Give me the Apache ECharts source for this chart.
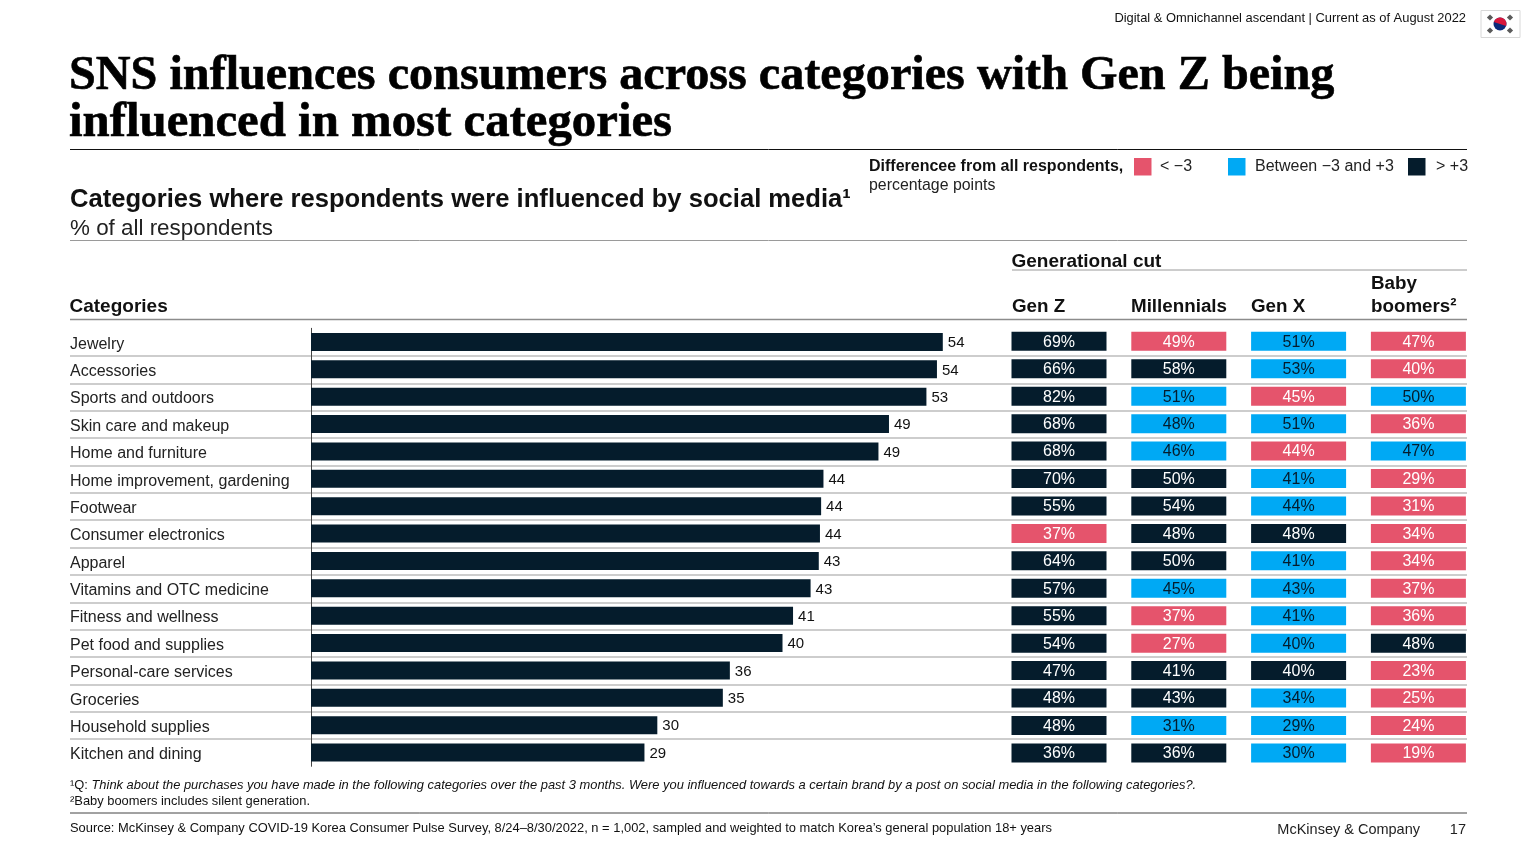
<!DOCTYPE html>
<html>
<head>
<meta charset="utf-8">
<title>SNS influence by category</title>
<style>
  html, body { margin: 0; padding: 0; background: #fff; }
  #main { width: 1536px; height: 864px; }
</style>
<script src="https://cdn.jsdelivr.net/npm/echarts@6/dist/echarts.min.js"></script>
</head>
<body>
<div id="main"></div>
<script>
const categories = ['Jewelry', 'Accessories', 'Sports and outdoors', 'Skin care and makeup', 'Home and furniture',
  'Home improvement, gardening', 'Footwear', 'Consumer electronics', 'Apparel', 'Vitamins and OTC medicine',
  'Fitness and wellness', 'Pet food and supplies', 'Personal-care services', 'Groceries', 'Household supplies', 'Kitchen and dining'];
// bar lengths, labels are these rounded
const allRespondents = [54.0, 53.5, 52.6, 49.4, 48.5, 43.8, 43.6, 43.5, 43.4, 42.7, 41.2, 40.3, 35.8, 35.2, 29.6, 28.5];
const generations = ['Gen Z', 'Millennials', 'Gen X', 'Baby boomers'];
const genZ = [69, 66, 82, 68, 68, 70, 55, 37, 64, 57, 55, 54, 47, 48, 48, 36];
const millennials = [49, 58, 51, 48, 46, 50, 54, 48, 50, 45, 37, 27, 41, 43, 31, 36];
const genX = [51, 53, 45, 51, 44, 41, 44, 48, 41, 43, 41, 40, 40, 34, 29, 30];
const boomers = [47, 40, 50, 36, 47, 29, 31, 34, 34, 37, 36, 48, 23, 25, 24, 19];

const NAVY = '#051C2C', PINK = '#E5546C', BLUE = '#00A9F4', RULE = '#BDBDBD';
const SANS = '"Liberation Sans", Arial, sans-serif';
const TITLE_FONT = '"Liberation Serif", serif';

// cell colour follows the gap to the all-respondents figure
function cellItems() {
  const items = [];
  [genZ, millennials, genX, boomers].forEach((col, c) => {
    col.forEach((v, r) => {
      const diff = v - Math.round(allRespondents[r]);
      const fill = diff > 3 ? NAVY : (diff < -3 ? PINK : BLUE);
      items.push({
        value: [c, r, v],
        itemStyle: { color: fill, opacity: 1 },
        label: { color: fill === BLUE ? NAVY : '#fff' }
      });
    });
  });
  return items;
}

function txt(x, y, text, size, extra) {
  return {
    type: 'text', x: x, y: y, silent: true,
    style: Object.assign({ text: text, fontFamily: SANS, fontSize: size, fill: '#111', textVerticalAlign: 'middle' }, extra || {})
  };
}
function rule(x1, x2, y, color, width) {
  return { type: 'line', silent: true, shape: { x1: x1, y1: y, x2: x2, y2: y }, style: { stroke: color, lineWidth: width } };
}
function box(x, y, w, h, color) {
  return { type: 'rect', silent: true, shape: { x: x, y: y, width: w, height: h }, style: { fill: color } };
}
// small grey bar group of the flag
function flagMark(cx, cy) {
  return { type: 'rect', silent: true, x: cx, y: cy, rotation: Math.PI / 4, shape: { x: -2.2, y: -2.2, width: 4.4, height: 4.4 }, style: { fill: '#5A5A5A' } };
}

const boldHead = { fontWeight: 'bold' };
const titleStyle = { fontFamily: TITLE_FONT, fontWeight: 'bold', fill: '#000', stroke: '#000', lineWidth: 0.6 };
const colX = [1012, 1131, 1251, 1371];

const graphics = [
  txt(1466, 18.5, 'Digital & Omnichannel ascendant | Current as of August 2022', 12.9, { textAlign: 'right' }),
  // flag
  { type: 'rect', silent: true, shape: { x: 1481, y: 10.5, width: 39, height: 27 }, style: { fill: '#fff', stroke: '#D8D8D8', lineWidth: 1 } },
  { type: 'circle', silent: true, shape: { cx: 1500, cy: 24, r: 6.5 }, style: { fill: '#0B2A7A' } },
  { type: 'sector', silent: true, shape: { cx: 1500, cy: 24, r: 6.5, r0: 0, startAngle: Math.PI * 1.1, endAngle: Math.PI * 2.1 }, style: { fill: '#D8173C' } },
  flagMark(1490, 17.5), flagMark(1510, 17.5), flagMark(1490, 30.5), flagMark(1510, 30.5),

  txt(69, 77, 'SNS influences consumers across categories with Gen Z being', 48.2, titleStyle),
  txt(69, 123, 'influenced in most categories', 48.8, titleStyle),
  rule(70, 1467, 149.5, '#111', 1),

  txt(70, 200, 'Categories where respondents were influenced by social media¹', 25.6, { fontWeight: 'bold', fill: '#111' }),
  txt(70, 228.5, '% of all respondents', 22.4, { fill: '#222' }),
  rule(70, 1467, 240.5, '#9A9A9A', 1),

  txt(869, 166.5, 'Differencee from all respondents,', 16, boldHead),
  txt(869, 185.5, 'percentage points', 15.9, { fill: '#222' }),
  box(1134, 158, 17.5, 17.5, PINK),
  txt(1160, 167, '< −3', 16, { fill: '#222' }),
  box(1228, 158, 17.5, 17.5, BLUE),
  txt(1255, 167, 'Between −3 and +3', 16, { fill: '#222' }),
  box(1408, 158, 17.5, 17.5, NAVY),
  txt(1436, 167, '> +3', 16, { fill: '#222' }),

  txt(1011.5, 262, 'Generational cut', 19, boldHead),
  rule(1012, 1467, 270, '#9A9A9A', 1),
  txt(69.5, 307, 'Categories', 19, boldHead),
  txt(colX[0], 307, generations[0], 18.8, boldHead),
  txt(colX[1], 307, generations[1], 18.8, boldHead),
  txt(colX[2], 307, generations[2], 18.8, boldHead),
  txt(colX[3], 284, 'Baby', 18.8, boldHead),
  txt(colX[3], 307, 'boomers²', 18.8, boldHead),
  rule(70, 1467, 319.5, '#8C8C8C', 1.5),

  {
    type: 'text', x: 70, y: 785.5, silent: true,
    style: {
      text: '¹Q: {i|Think about the purchases you have made in the following categories over the past 3 months. Were you influenced towards a certain brand by a post on social media in the following categories?.}',
      fontFamily: SANS, fontSize: 12.9, fill: '#111', textVerticalAlign: 'middle',
      rich: { i: { fontStyle: 'italic', fontFamily: SANS, fontSize: 12.9, fill: '#111' } }
    }
  },
  txt(70, 801.5, '²Baby boomers includes silent generation.', 12.9),
  rule(70, 1467, 813, '#444', 1),
  txt(70, 828.5, 'Source: McKinsey & Company COVID-19 Korea Consumer Pulse Survey, 8/24–8/30/2022, n = 1,002, sampled and weighted to match Korea’s general population 18+ years', 12.9),
  txt(1420, 830, 'McKinsey & Company', 14.5, { textAlign: 'right', fill: '#222' }),
  txt(1466, 830, '17', 14.5, { textAlign: 'right', fill: '#222' })
];

const option = {
  backgroundColor: '#fff',
  animation: false,
  grid: [
    // row rules run the full width behind the marks
    { left: 70, top: 328.6, width: 1397, height: 438 },
    { left: 311, top: 328.3, width: 702, height: 438 },
    { left: 999.1, top: 327.6, width: 479.2, height: 439 },
    // names sit a little below the row middle
    { left: 70, top: 330.6, width: 241, height: 438 }
  ],
  xAxis: [
    { gridIndex: 0, type: 'value', min: 0, max: 1, show: false },
    { gridIndex: 1, type: 'value', min: 0, max: 60, show: false },
    { gridIndex: 2, type: 'category', data: generations, show: false },
    { gridIndex: 3, type: 'value', min: 0, max: 1, show: false }
  ],
  yAxis: [
    {
      gridIndex: 0, type: 'category', inverse: true, data: categories,
      axisLine: { show: false }, axisTick: { show: false }, axisLabel: { show: false },
      splitLine: { show: true, showMinLine: false, showMaxLine: false, lineStyle: { color: RULE, width: 1.5 } }
    },
    {
      gridIndex: 1, type: 'category', inverse: true, data: categories,
      axisLine: { show: true, lineStyle: { color: '#444', width: 1 } }, axisTick: { show: false }, axisLabel: { show: false }
    },
    { gridIndex: 2, type: 'category', inverse: true, data: categories, show: false },
    {
      gridIndex: 3, type: 'category', inverse: true, data: categories,
      axisLine: { show: false }, axisTick: { show: false }, splitLine: { show: false },
      axisLabel: { inside: true, margin: 0, fontFamily: SANS, fontSize: 16, color: '#222' }
    }
  ],
  series: [
    {
      type: 'bar', xAxisIndex: 1, yAxisIndex: 1, data: allRespondents, barWidth: 18,
      itemStyle: { color: NAVY },
      label: {
        show: true, position: 'right', distance: 5, offset: [0, 1], fontFamily: SANS, fontSize: 15, color: '#111',
        formatter: p => Math.round(p.value)
      }
    },
    {
      type: 'scatter', xAxisIndex: 2, yAxisIndex: 2, data: cellItems(),
      symbol: 'rect', symbolSize: [95, 19],
      label: {
        show: true, position: 'inside', offset: [0, 1], fontFamily: SANS, fontSize: 16,
        formatter: p => p.value[2] + '%'
      }
    }
  ],
  graphic: { elements: graphics }
};

const myChart = echarts.init(document.getElementById('main'));
myChart.setOption(option);
window.addEventListener('resize', () => myChart.resize());
</script>
</body>
</html>
